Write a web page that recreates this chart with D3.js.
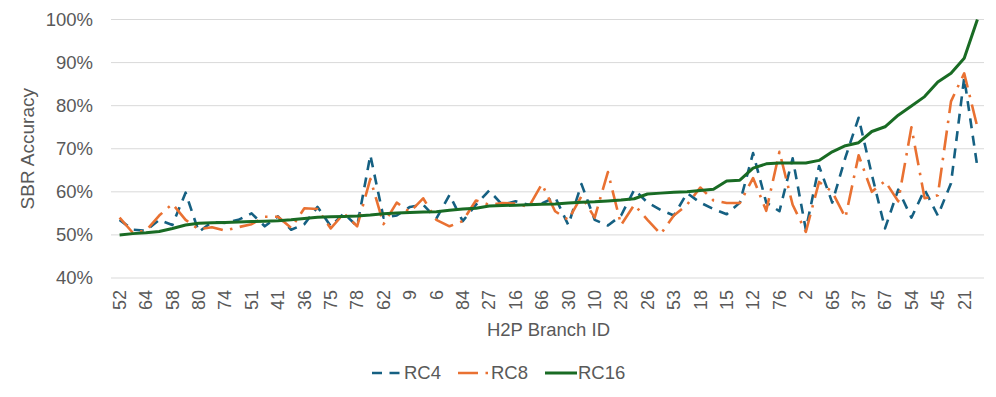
<!DOCTYPE html>
<html>
<head>
<meta charset="utf-8">
<script src="https://cdn.jsdelivr.net/npm/d3@7/dist/d3.min.js"></script>
<style>
  html, body { margin: 0; padding: 0; background: #ffffff; }
  svg { display: block; font-family: "Liberation Sans", Arial, sans-serif; }
</style>
</head>
<body>
<svg id="chart" width="996" height="397"></svg>
<script>
// ---- data ----
const tickLabels = ["52","64","58","80","74","51","41","36","75","78","62","9","6","84","27","16","66","30","10","28","26","53","18","15","12","76","2","65","37","67","54","45","21"];
const seriesNames = ["RC4", "RC8", "RC16"];
const rc4 = [53.5,51.2,51.0,53.5,52.3,59.8,50.7,53.0,52.8,53.5,55.0,52.0,54.3,51.2,52.5,56.5,52.0,55.0,52.0,68.5,54.0,54.5,56.5,57.0,53.8,59.3,53.2,57.0,60.3,57.0,57.8,57.0,57.3,58.8,52.3,61.8,53.5,52.2,54.5,60.5,57.5,55.8,54.5,59.7,57.5,56.0,54.8,57.5,69.0,57.5,55.5,67.8,51.2,66.0,57.5,68.0,77.2,64.0,51.5,60.5,54.0,60.5,54.5,62.0,86.5,65.7];
const rc8 = [54.0,50.5,51.0,54.5,57.2,53.5,51.3,51.8,51.0,51.8,52.5,54.2,54.2,51.6,56.2,56.0,51.5,55.0,52.0,63.0,52.5,57.5,55.3,58.5,53.5,52.0,53.2,58.0,57.0,57.4,57.3,56.5,61.8,55.5,53.5,59.0,54.0,64.6,52.3,57.0,53.5,50.2,54.5,57.0,61.0,58.0,57.4,57.4,63.2,55.6,69.3,57.0,50.7,62.3,60.0,54.0,68.5,60.0,62.5,57.8,75.0,58.5,59.2,81.0,87.5,75.0];
const rc16 = [50.0,50.3,50.5,50.8,51.5,52.3,52.7,52.8,52.9,53.0,53.1,53.2,53.3,53.5,53.8,54.1,54.2,54.3,54.4,54.6,54.9,55.1,55.2,55.3,55.4,55.7,56.0,56.2,56.7,56.8,56.9,57.0,57.1,57.2,57.4,57.6,57.7,57.9,58.1,58.4,59.5,59.7,59.9,60.0,60.3,60.6,62.5,62.7,65.5,66.5,66.7,66.7,66.7,67.3,69.3,70.7,71.4,74.0,75.1,77.8,79.9,82.1,85.5,87.5,91.0,100.0];
const yTicks = [40, 50, 60, 70, 80, 90, 100];

// ---- layout ----
const svg = d3.select("#chart");
const pLeft = 113, pRight = 984, pTop = 19.5, pBottom = 278;
const idx = d3.range(rc16.length);
const x = d3.scaleBand().domain(idx).range([pLeft, pRight]).paddingInner(0).paddingOuter(0);
const y = d3.scaleLinear().domain([40, 100]).range([pBottom, pTop]);
const cx = i => x(i) + x.bandwidth() / 2;
const textColor = "#595959";
const fontFam = "'Liberation Sans', Arial, sans-serif";

// gridlines
svg.append("g")
  .selectAll("line").data(yTicks).join("line")
  .attr("x1", pLeft - 2).attr("x2", pRight)
  .attr("y1", d => y(d)).attr("y2", d => y(d))
  .attr("stroke", "#d9d9d9").attr("stroke-width", 1);

// y axis labels
const yAxis = d3.axisLeft(y).tickValues(yTicks).tickSize(0).tickPadding(0)
  .tickFormat(d => d + "%");
const gy = svg.append("g").attr("transform", `translate(${93},0)`).call(yAxis);
gy.select(".domain").remove();
gy.selectAll("text").attr("fill", textColor).style("font-size", "18.5px")
  .style("font-family", fontFam);

// x axis labels (every other category)
const xAxis = d3.axisBottom(x)
  .tickValues(idx.filter(i => i % 2 === 0))
  .tickSize(0)
  .tickFormat(i => tickLabels[i / 2]);
const gx = svg.append("g").attr("transform", `translate(0,${pBottom})`).call(xAxis);
gx.select(".domain").remove();
gx.selectAll("text")
  .attr("fill", textColor)
  .style("font-size", "18px")
  .style("font-family", fontFam)
  .attr("transform", "rotate(-90)")
  .attr("text-anchor", "end")
  .attr("x", -12)
  .attr("y", 0)
  .attr("dy", "0.35em");

// axis titles
svg.append("text").attr("x", (pLeft + pRight) / 2).attr("y", 336)
  .attr("text-anchor", "middle").attr("fill", textColor)
  .style("font-size", "18.5px").style("font-family", fontFam)
  .text("H2P Branch ID");
svg.append("text").attr("transform", `translate(34,${(pTop + pBottom) / 2}) rotate(-90)`)
  .attr("text-anchor", "middle").attr("fill", textColor)
  .style("font-size", "19px").style("font-family", fontFam)
  .text("SBR Accuracy");

// series
const series = [
  { name: seriesNames[0], values: rc4, color: "#156082", dash: "10,7.5", width: 2.6 },
  { name: seriesNames[1], values: rc8, color: "#E97132", dash: "20,7.5,2.5,7.5", width: 2.6 },
  { name: seriesNames[2], values: rc16, color: "#196B24", dash: null, width: 3 }
];
const line = d3.line().x((d, i) => cx(i)).y(d => y(d));
svg.append("g").selectAll("path").data(series).join("path")
  .attr("d", s => line(s.values))
  .attr("fill", "none")
  .attr("stroke", s => s.color)
  .attr("stroke-width", s => s.width)
  .attr("stroke-dasharray", s => s.dash)
  .attr("stroke-linejoin", "round");

// legend
const legendItems = [
  { s: series[0], x0: 372, x1: 400, tx: 404 },
  { s: series[1], x0: 458, x1: 488, tx: 491 },
  { s: series[2], x0: 545, x1: 577, tx: 578 }
];
const lg = svg.append("g");
legendItems.forEach(it => {
  lg.append("line").attr("x1", it.x0).attr("x2", it.x1).attr("y1", 373).attr("y2", 373)
    .attr("stroke", it.s.color).attr("stroke-width", it.s.width)
    .attr("stroke-dasharray", it.s.dash);
  lg.append("text").attr("x", it.tx).attr("y", 373).attr("dy", "0.35em")
    .attr("fill", textColor).style("font-size", "18.5px")
    .style("font-family", fontFam).text(it.s.name);
});
</script>
</body>
</html>
